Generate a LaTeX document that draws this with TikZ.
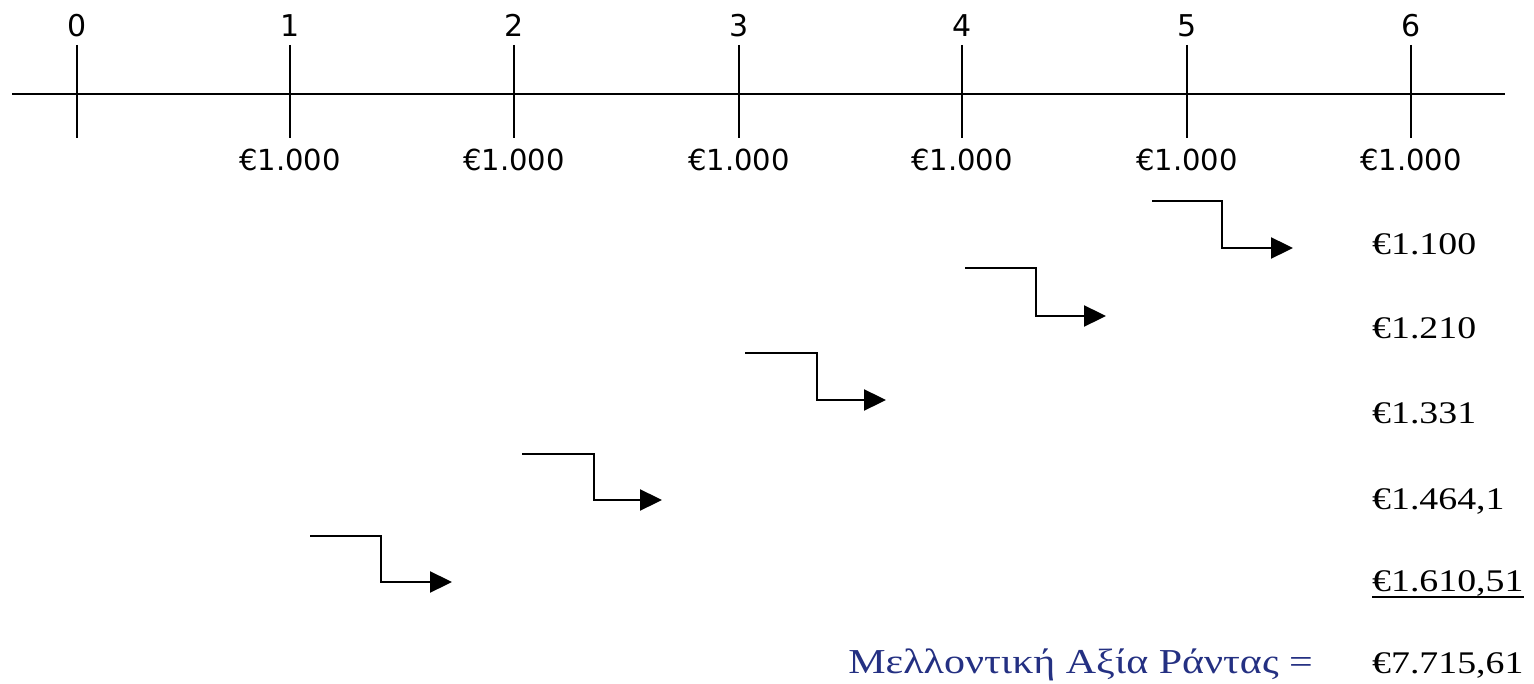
\documentclass[tikz,border=0pt]{standalone}
\usepackage{fontspec}
\usetikzlibrary{arrows.meta}
\newfontfamily\axisfont{DejaVu Sans}
\newfontfamily\sumfont[FakeStretch=1.2]{Liberation Serif}
\definecolor{navytext}{RGB}{36,48,130}
\tikzset{
  axisline/.style={line width=2.3pt, black},
  ticklabel/.style={font=\axisfont\fontsize{30}{36}\selectfont, inner sep=0pt, anchor=base},
  paylabel/.style={font=\axisfont\fontsize{29}{35}\selectfont, inner sep=0pt, anchor=base},
  fvlabel/.style={font=\sumfont\fontsize{31.5}{37}\selectfont, inner sep=0pt, anchor=base west},
  flow/.style={line width=2.3pt, -{Triangle[length=22pt,width=21pt]}},
}
\begin{document}
\begin{tikzpicture}[x=1pt,y=-1pt]
\useasboundingbox (0,0) rectangle (1534,684);

% time axis
\coordinate (axL) at (12,94);
\coordinate (axR) at (1505,94);
\draw[axisline] (axL) -- (axR);

% periods 0..6 with ticks, period numbers and payments
\foreach \i/\x in {0/77,1/290,2/514,3/739,4/962,5/1187,6/1411}{
  \coordinate (t\i) at (\x,45);
  \coordinate (b\i) at (\x,138);
  \draw[axisline] (t\i) -- (b\i);
  \node[ticklabel] (n\i) at (\x,37) {\i};
}
\foreach \i/\x in {1/290,2/514,3/739,4/962,5/1187,6/1411}{
  \node[paylabel] (p\i) at (\x,171) {€1.000};
}

% compounded values of each payment
\node[fvlabel] (v1) at (1372,255) {€1.100};
\node[fvlabel] (v2) at (1372,339) {€1.210};
\node[fvlabel] (v3) at (1372,423) {€1.331};
\node[fvlabel] (v4) at (1372,509) {€1.464,1};
\node[fvlabel] (v5) at (1372,591) {€1.610,51};
\draw[line width=2pt] ([yshift=-6pt]v5.base west) -- ([yshift=-6pt]v5.base east);

% total
\node[fvlabel] (tot) at (1372,673) {€7.715,61};
\node[font=\sumfont\fontsize{35}{40}\selectfont, text=navytext, inner sep=0pt, anchor=base east] (fvtext) at (1313,673) {Μελλοντική Αξία Ράντας =};

% compounding steps
\foreach \k/\sx/\sy/\cx/\ey/\ex in {1/1152/201/1222/248/1293,
                                     2/965/268/1036/316/1106,
                                     3/745/353/817/400/886,
                                     4/522/454/594/500/662,
                                     5/310/536/381/582/452}{
  \coordinate (s\k) at (\sx,\sy);
  \coordinate (c\k) at (\cx,\ey);
  \coordinate (e\k) at (\ex,\ey);
  \draw[flow] (s\k) -| (c\k) -- (e\k);
}
\end{tikzpicture}
\end{document}
